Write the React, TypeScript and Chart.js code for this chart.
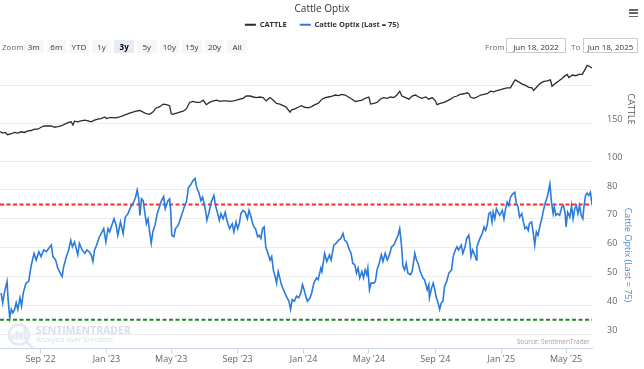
import React, { useEffect, useRef } from "react";
import { Chart, registerables } from "chart.js";

Chart.register(...registerables);

const FONT = '"Open Sans", "Noto Sans", "DejaVu Sans", sans-serif';
Chart.defaults.font.family = FONT;

// ---- data (days counted from Jun 18, 2022) ----
const startDate = Date.UTC(2022, 5, 18);
const endDate = Date.UTC(2025, 5, 18);
const DAY_MS = 86400000;

const cattleDays = [
  0, 5, 10, 14, 21, 27, 33, 39, 45, 52, 58, 64, 70, 76, 82, 89, 95, 101, 107, 113,
  120, 126, 132, 135, 138, 144, 150, 157, 163, 169, 175, 181, 187, 194, 197, 203, 209, 215, 221, 228,
  234, 240, 246, 252, 259, 265, 271, 277, 283, 289, 296, 302, 308, 314, 317, 320, 327, 333, 339, 345,
  351, 357, 364, 370, 376, 379, 382, 388, 395, 401, 407, 413, 419, 425, 432, 438, 444, 450, 456, 463,
  469, 475, 481, 487, 493, 500, 506, 512, 518, 524, 530, 537, 540, 546, 552, 558, 564, 571, 577, 583, 589,
  596, 602, 608, 615, 621, 627, 633, 639, 645, 652, 658, 664, 670, 676, 683, 686, 692, 698, 704, 710,
  717, 723, 729, 735, 740, 744, 751, 757, 763, 769, 775, 781, 788, 794, 800, 806, 809, 815, 822, 828,
  834, 840, 846, 852, 859, 865, 868, 871, 877, 883, 890, 896, 902, 908, 914, 920, 927, 933, 939, 945,
  951, 954, 961, 967, 973, 979, 985, 988, 995, 1001, 1007, 1013, 1019, 1022, 1029, 1035, 1041, 1044, 1050, 1053,
  1060, 1066, 1072, 1078, 1084, 1087, 1090, 1093, 1096,
];
const cattleValues = [
  139.3, 137.2, 138.0, 135.0, 136.3, 138.0, 137.2, 138.9, 138.0, 140.2, 140.6, 142.3, 142.3, 144.9, 146.6, 146.6, 146.6, 144.9, 145.7, 146.6,
  149.1, 150.9, 152.1, 147.9, 153.0, 152.1, 153.4, 154.3, 153.4, 152.1, 154.3, 155.6, 156.4, 158.5, 156.4, 157.7, 157.7, 157.3, 158.5, 160.3,
  162.0, 163.7, 165.0, 166.2, 167.1, 165.0, 162.8, 162.0, 165.0, 170.5, 172.2, 175.6, 174.8, 173.5, 162.8, 162.0, 163.7, 165.0, 166.2, 169.2,
  177.8, 179.1, 177.8, 177.8, 180.8, 177.8, 174.8, 177.8, 179.9, 180.8, 179.1, 179.9, 179.9, 179.1, 179.9, 180.8, 182.1, 183.3, 186.3, 186.3,
  185.0, 184.2, 185.0, 184.2, 179.9, 184.2, 180.8, 176.5, 175.6, 173.5, 171.4, 165.0, 168.0, 169.2, 171.4, 173.5, 171.4, 170.5, 172.2, 174.8, 176.5,
  182.1, 184.2, 185.0, 186.3, 187.6, 186.8, 188.5, 187.6, 185.0, 182.1, 179.1, 179.9, 180.8, 183.3, 185.0, 175.6, 176.5, 177.8, 182.1, 184.2,
  183.3, 185.0, 184.2, 187.6, 192.7, 186.3, 184.2, 182.1, 186.3, 187.6, 185.0, 183.3, 185.0, 182.1, 184.2, 179.9, 174.8, 176.5, 177.8, 179.9,
  182.1, 185.0, 186.3, 188.5, 189.3, 190.6, 189.3, 185.0, 183.3, 185.0, 187.6, 188.5, 189.3, 192.7, 191.9, 193.6, 194.9, 196.2, 197.0, 197.0,
  204.7, 207.7, 204.7, 202.1, 200.4, 197.9, 197.0, 193.6, 199.2, 203.4, 205.6, 206.4, 207.7, 199.2, 203.4, 206.4, 209.8, 212.0, 214.9, 210.7,
  214.1, 213.2, 214.9, 214.9, 222.6, 226.9, 226.1, 224.8, 223.5,
];

const optixDays = [
  2, 5, 8, 13, 15, 18, 21, 24, 27, 30, 33, 37, 40, 43, 48, 53, 58, 63, 67, 72,
  76, 81, 86, 90, 95, 98, 103, 107, 115, 118, 123, 127, 131, 134, 138, 144, 147, 152, 157, 161,
  165, 169, 172, 175, 179, 184, 189, 192, 196, 200, 203, 207, 211, 215, 218, 223, 228, 232, 237, 242,
  246, 251, 254, 257, 259, 262, 265, 268, 271, 274, 277, 280, 283, 287, 291, 294, 299, 303, 306, 311,
  314, 316, 318, 322, 325, 330, 334, 338, 342, 345, 349, 353, 357, 361, 364, 368, 372, 375, 378, 381,
  383, 387, 391, 396, 399, 403, 406, 409, 413, 417, 420, 425, 430, 433, 437, 440, 443, 446, 450, 454,
  458, 461, 464, 467, 470, 473, 477, 480, 483, 486, 489, 492, 497, 500, 503, 506, 510, 512, 515, 518,
  521, 526, 530, 535, 538, 541, 545, 549, 553, 557, 560, 563, 566, 569, 574, 577, 581, 586, 589, 594,
  596, 601, 605, 610, 613, 618, 622, 627, 631, 635, 638, 642, 647, 650, 653, 657, 660, 663, 666, 670,
  673, 676, 679, 681, 684, 687, 692, 695, 698, 702, 706, 709, 713, 717, 721, 725, 729, 733, 737, 740,
  743, 746, 749, 752, 755, 760, 763, 768, 771, 774, 778, 783, 786, 791, 794, 795, 799, 802, 805, 807,
  811, 814, 817, 820, 823, 827, 831, 836, 839, 843, 846, 849, 854, 857, 861, 864, 868, 870, 872, 875,
  878, 882, 883, 886, 890, 893, 896, 899, 902, 905, 908, 911, 913, 916, 919, 922, 925, 930, 933, 936,
  939, 942, 945, 949, 953, 956, 959, 962, 966, 969, 972, 975, 978, 980, 984, 987, 990, 993, 996, 1000,
  1003, 1006, 1010, 1014, 1018, 1021, 1024, 1026, 1029, 1032, 1036, 1040, 1043, 1046, 1048, 1051, 1055, 1058, 1061, 1064,
  1067, 1070, 1073, 1076, 1079, 1081, 1084, 1087, 1090, 1093, 1096,
];
const optixValues = [
  44.3, 40.9, 44.3, 48.3, 42.0, 35.7, 38.6, 37.4, 38.6, 40.9, 38.6, 42.6, 39.7, 44.3, 47.7, 48.3, 54.0, 58.0, 55.7, 58.6,
  56.9, 59.2, 58.6, 59.7, 60.9, 56.9, 55.7, 52.9, 50.0, 53.5, 56.9, 59.2, 62.6, 60.3, 62.0, 57.5, 61.5, 59.2, 58.0, 59.2,
  58.6, 57.5, 55.2, 59.2, 60.9, 63.8, 65.5, 66.6, 62.0, 66.6, 65.5, 67.8, 70.0, 67.8, 64.3, 68.9, 64.9, 70.6, 71.8, 74.1,
  75.2, 77.5, 80.0, 76.9, 71.2, 76.9, 76.3, 72.3, 68.3, 70.0, 65.5, 61.5, 65.5, 67.8, 71.8, 73.5, 76.3, 77.7, 73.5, 76.3,
  76.9, 72.9, 64.3, 63.8, 66.6, 67.8, 70.0, 72.3, 74.6, 75.8, 80.9, 81.8, 83.2, 84.0, 80.9, 79.2, 76.3, 77.5, 75.2, 72.3,
  69.5, 72.3, 75.8, 78.1, 74.6, 71.8, 69.5, 71.8, 70.0, 72.3, 69.5, 66.6, 68.3, 65.5, 68.9, 66.6, 68.3, 71.8, 72.9, 72.3,
  70.0, 72.9, 71.2, 68.9, 67.2, 66.6, 63.8, 64.3, 63.2, 66.6, 67.2, 60.3, 57.5, 55.7, 56.9, 52.3, 49.5, 47.7, 51.7, 49.5,
  47.2, 44.9, 43.2, 41.4, 38.6, 42.0, 41.4, 43.2, 42.6, 44.3, 47.2, 45.4, 43.2, 41.4, 42.6, 44.3, 47.7, 49.5, 48.9, 52.9,
  51.7, 58.0, 55.2, 57.5, 55.7, 60.9, 61.5, 62.6, 63.2, 64.9, 62.6, 62.0, 59.2, 58.0, 54.6, 54.0, 51.2, 52.9, 49.5, 51.7,
  49.5, 52.3, 50.6, 52.9, 45.4, 47.7, 47.7, 48.3, 52.3, 54.6, 57.5, 55.2, 58.0, 55.7, 57.5, 60.3, 60.9, 62.6, 64.3, 66.6,
  61.5, 53.5, 52.3, 54.6, 51.2, 50.6, 51.7, 58.0, 55.7, 54.6, 51.7, 49.5, 48.9, 45.4, 47.2, 42.6, 46.0, 47.7, 45.4, 43.2,
  40.9, 38.6, 40.9, 41.4, 46.6, 48.3, 51.2, 52.3, 56.9, 59.2, 60.3, 59.2, 60.9, 58.0, 60.3, 63.2, 64.3, 61.5, 56.9, 59.2,
  58.0, 55.7, 60.3, 62.0, 63.8, 64.9, 67.2, 66.0, 67.8, 71.8, 72.3, 68.9, 72.3, 70.0, 73.5, 72.3, 71.2, 72.9, 70.0, 73.5,
  75.8, 74.6, 77.5, 78.6, 79.2, 75.2, 74.1, 70.6, 71.8, 68.9, 66.6, 67.2, 66.0, 68.3, 68.9, 65.5, 60.9, 65.5, 64.3, 67.8,
  70.0, 72.9, 75.8, 78.1, 82.1, 75.8, 71.8, 74.1, 71.2, 71.8, 71.2, 74.1, 74.6, 72.3, 67.2, 72.3, 70.6, 74.6, 70.0, 73.5,
  74.6, 71.8, 74.6, 71.2, 70.0, 74.1, 78.1, 78.9, 78.1, 79.2, 75.0,
];

const optixLast = 75;
const upperThreshold = 75;
const lowerThreshold = 35;

const xTickDates = [
  "2022-09-01", "2023-01-01", "2023-05-01", "2023-09-01", "2024-01-01",
  "2024-05-01", "2024-09-01", "2025-01-01", "2025-05-01",
];
const xTickLabels = [
  "Sep '22", "Jan '23", "May '23", "Sep '23", "Jan '24",
  "May '24", "Sep '24", "Jan '25", "May '25",
];

const chartTitle = "Cattle Optix";
const cattleName = "CATTLE";
const optixName = `Cattle Optix (Last = ${optixLast})`;
const rangeButtons = ["3m", "6m", "YTD", "1y", "3y", "5y", "10y", "15y", "20y", "All"];
const selectedRange = "3y";
const fromText = "Jun 18, 2022";
const toText = "Jun 18, 2025";

// ---- colours ----
const CATTLE_COLOR = "#2b2b2b";
const OPTIX_COLOR = "#2a7bdc";
const GRID = "#ececec";
const AXIS = "#ccd6eb";

const toPoints = (days: number[], vals: number[]) =>
  days.map((d, i) => ({ x: startDate + d * DAY_MS, y: vals[i] }));

const watermarkPlugin = {
  id: "watermark",
  beforeDatasetsDraw(chart: any) {
    const { ctx, chartArea } = chart;
    const left = chartArea.left;
    const bottom = chartArea.bottom;
    ctx.save();
    ctx.strokeStyle = "#e3e9f0";
    ctx.lineWidth = 2.5;
    ctx.beginPath();
    ctx.arc(left + 19, bottom - 14, 10, 0, Math.PI * 2);
    ctx.stroke();
    ctx.beginPath();
    ctx.moveTo(left + 26, bottom - 7);
    ctx.lineTo(left + 33, bottom - 1);
    ctx.stroke();
    ctx.fillStyle = "#e3e9f0";
    [[13, 5], [17, 9], [21, 7], [25, 12]].forEach(([dx, h]) => {
      ctx.fillRect(left + dx - 1.5, bottom - 9 - h, 3, h);
    });
    ctx.fillStyle = "#d6e0eb";
    ctx.textBaseline = "middle";
    ctx.textAlign = "left";
    ctx.font = `bold 10.5px ${FONT}`;
    ctx.fillText("SENTIMENTRADER", left + 36, bottom - 18);
    ctx.font = `7.5px ${FONT}`;
    ctx.fillText("Analysis over Emotion", left + 36, bottom - 9);
    ctx.fillStyle = "#a0a0a0";
    ctx.font = `6.5px ${FONT}`;
    ctx.textAlign = "right";
    ctx.fillText("Source: SentimenTrader", chartArea.right - 2, bottom - 6);
    ctx.restore();
  },
};

const legendSpacer = {
  id: "legendSpacer",
  beforeInit(chart: any) {
    const legend = chart.legend;
    if (!legend) return;
    const orig = legend.fit;
    legend.fit = function () {
      orig.call(this);
      this.height = 49;
    };
  },
};

export default function App() {
  const canvasRef = useRef<HTMLCanvasElement | null>(null);

  useEffect(() => {
    const canvas = canvasRef.current;
    if (!canvas) return;
    const xTicks = xTickDates.map((d) => Date.parse(d));
    const chart = new Chart(canvas, {
      type: "line",
      data: {
        datasets: [
          {
            label: cattleName,
            data: toPoints(cattleDays, cattleValues),
            yAxisID: "y",
            borderColor: CATTLE_COLOR,
            backgroundColor: CATTLE_COLOR,
            borderWidth: 1.3,
            pointRadius: 0,
            tension: 0,
          },
          {
            label: optixName,
            data: toPoints(optixDays, optixValues),
            yAxisID: "y1",
            borderColor: OPTIX_COLOR,
            backgroundColor: OPTIX_COLOR,
            borderWidth: 1.6,
            pointRadius: 0,
            tension: 0,
          },
          {
            label: "upper",
            data: [
              { x: startDate, y: upperThreshold },
              { x: endDate, y: upperThreshold },
            ],
            yAxisID: "y1",
            borderColor: "#ff2a2a",
            borderWidth: 2,
            borderDash: [4, 2.5],
            pointRadius: 0,
          },
          {
            label: "lower",
            data: [
              { x: startDate, y: lowerThreshold },
              { x: endDate, y: lowerThreshold },
            ],
            yAxisID: "y1",
            borderColor: "#1c8a1c",
            borderWidth: 2,
            borderDash: [4, 2.5],
            pointRadius: 0,
          },
        ],
      },
      options: {
        responsive: false,
        animation: false,
        devicePixelRatio: 1,
        layout: { padding: 0 },
        events: [],
        plugins: {
          tooltip: { enabled: false },
          title: {
            display: true,
            text: chartTitle,
            color: "#333333",
            font: { size: 10, weight: "normal" },
            padding: { top: 3, bottom: -7 },
          },
          legend: {
            display: true,
            position: "top",
            align: "center",
            labels: {
              color: "#333333",
              font: { size: 7.5, weight: "bold" },
              boxWidth: 11,
              boxHeight: 2,
              padding: 13,
              generateLabels: (c: any) =>
                Chart.defaults.plugins.legend.labels
                  .generateLabels(c)
                  .filter((l: any) => l.datasetIndex < 2)
                  .map((l: any) => ({ ...l, lineWidth: 0 })),
            },
          },
        },
        scales: {
          x: {
            type: "linear",
            min: startDate,
            max: endDate,
            afterBuildTicks: (s: any) => {
              s.ticks = xTicks.map((v) => ({ value: v }));
            },
            afterFit: (s: any) => {
              s.height = 17;
            },
            ticks: {
              autoSkip: false,
              maxRotation: 0,
              color: "#666666",
              font: { size: 9 },
              padding: 0,
              callback: (_v: any, i: number) => xTickLabels[i],
            },
            grid: {
              drawOnChartArea: false,
              drawTicks: true,
              tickLength: 5,
              color: AXIS,
            },
            border: { display: true, color: AXIS, width: 1 },
          },
          y: {
            type: "linear",
            position: "right",
            stack: "panes",
            stackWeight: 105,
            min: 100,
            max: 238,
            afterFit: (s: any) => {
              s.width = 52;
            },
            ticks: {
              stepSize: 50,
              includeBounds: false,
              color: "#666666",
              font: { size: 9 },
              padding: 15,
              labelOffset: -4,
              callback: (v: any) => (v === 200 ? "" : String(v)),
            },
            grid: { color: GRID, drawTicks: false },
            border: { display: false },
            title: {
              display: true,
              text: cattleName,
              color: "#555555",
              font: { size: 9 },
              padding: { top: 8, bottom: 0 },
            },
          },
          y1: {
            type: "linear",
            position: "right",
            stack: "panes",
            stackWeight: 189,
            min: 25,
            max: 90,
            afterFit: (s: any) => {
              s.width = 52;
            },
            ticks: {
              stepSize: 10,
              includeBounds: false,
              color: "#666666",
              font: { size: 9 },
              padding: 15,
              labelOffset: -4,
              callback: (v: any) => (v === 90 ? "" : String(v)),
            },
            grid: { color: GRID, drawTicks: false },
            border: { display: false },
            title: {
              display: true,
              text: optixName,
              color: "#4b8ad6",
              font: { size: 9 },
              padding: { top: 11, bottom: 0 },
            },
          },
        },
      },
      plugins: [legendSpacer, watermarkPlugin],
    } as any);
    return () => chart.destroy();
  }, []);

  const small = { fontSize: 8, lineHeight: "13px", position: "absolute" as const };

  return (
    <div
      style={{
        position: "absolute",
        left: 0,
        top: 0,
        width: 644,
        height: 369,
        background: "#ffffff",
        fontFamily: FONT,
        overflow: "hidden",
      }}
    >
      <canvas
        ref={canvasRef}
        width={644}
        height={369}
        style={{ position: "absolute", left: 0, top: 0, width: 644, height: 369 }}
      />
      <div style={{ position: "absolute", left: 629, top: 9 }}>
        {[0, 1, 2].map((i) => (
          <div
            key={i}
            style={{ width: 9, height: 1.6, background: "#666", marginBottom: 1.8 }}
          />
        ))}
      </div>
      <span style={{ ...small, left: 2, top: 40, color: "#666" }}>Zoom</span>
      {rangeButtons.map((b, i) => (
        <div
          key={b}
          style={{
            ...small,
            left: 24 + i * 22.6,
            top: 40,
            width: 19.5,
            height: 13,
            textAlign: "center",
            background: b === selectedRange ? "#e6ebf5" : "#f7f7f7",
            color: b === selectedRange ? "#000" : "#333",
            fontWeight: b === selectedRange ? "bold" : "normal",
          }}
        >
          {b}
        </div>
      ))}
      <span style={{ ...small, left: 485, top: 40, color: "#666" }}>From</span>
      <div
        style={{
          ...small,
          left: 506,
          top: 38,
          width: 60,
          height: 15,
          lineHeight: "15px",
          boxSizing: "border-box",
          border: "1px solid #cccccc",
          textAlign: "center",
          color: "#333",
        }}
      >
        {fromText}
      </div>
      <span style={{ ...small, left: 571, top: 40, color: "#666" }}>To</span>
      <div
        style={{
          ...small,
          left: 583,
          top: 38,
          width: 55,
          height: 15,
          lineHeight: "15px",
          boxSizing: "border-box",
          border: "1px solid #cccccc",
          textAlign: "center",
          color: "#333",
        }}
      >
        {toText}
      </div>
    </div>
  );
}
